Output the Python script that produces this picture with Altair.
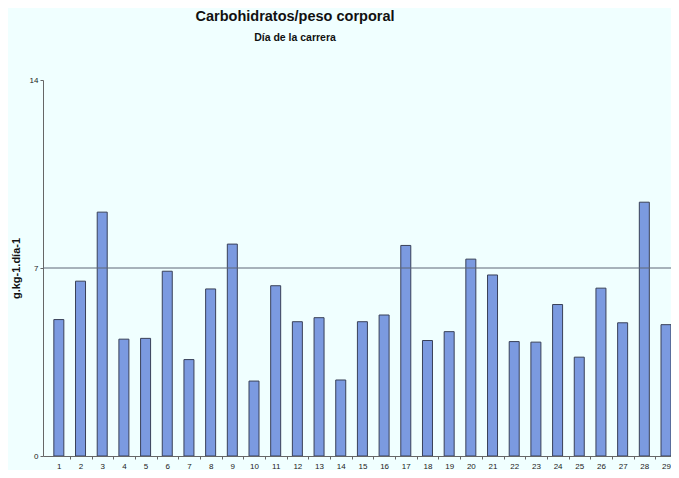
import altair as alt
import pandas as pd

days = list(range(1, 30))
values = [5.08, 6.51, 9.08, 4.35, 4.38, 6.88, 3.59, 6.22, 7.89, 2.79,
          6.34, 5.00, 5.15, 2.83, 5.00, 5.25, 7.84, 4.30, 4.63, 7.33,
          6.74, 4.26, 4.24, 5.64, 3.68, 6.25, 4.96, 9.45, 4.89]
reference_level = [7]
y_ticks = [0, 7, 14]

df = pd.DataFrame({"dia": days, "valor": values})
ref = pd.DataFrame({"nivel": reference_level})

FONT = "Liberation Sans"
W = 628
BAND = W / 28.5

x_enc = alt.X(
    "dia:Q",
    scale=alt.Scale(domain=[0.5, 29], nice=False, zero=False),
    axis=alt.Axis(
        values=days, format="d", title=None, grid=False,
        tickSize=3, tickOffset=BAND / 2, labelOffset=-BAND / 2,
        labelFontSize=8, labelPadding=3,
        labelColor="#222", labelFont=FONT,
        domainColor="#666", tickColor="#666", labelFlush=False,
    ),
)

y_enc = alt.Y(
    "valor:Q",
    scale=alt.Scale(domain=[0, 14], nice=False),
    axis=alt.Axis(
        values=y_ticks, title="g.kg-1.día-1", grid=False,
        tickSize=3, labelFontSize=8, labelPadding=2, labelColor="#222",
        labelFont=FONT, domainColor="#666", tickColor="#666",
        titleFont=FONT, titleFontSize=11, titleFontWeight="bold",
        titleColor="#111", titlePadding=8,
    ),
)

bars = alt.Chart(df).mark_bar(
    size=10, fill="#7b9ae0", stroke="#394058", strokeWidth=1, clip=True
).encode(x=x_enc, y=y_enc)

rule = alt.Chart(ref).mark_rule(color="#5f6677", strokeWidth=1).encode(
    y=alt.Y("nivel:Q")
)

chart = alt.layer(bars, rule).properties(
    width=W,
    height=376,
    background="#f0ffff",
    autosize=alt.AutoSizeParams(type="none"),
    padding={"left": 35, "top": 72, "right": 0, "bottom": 14},
    title=alt.TitleParams(
        text="Carbohidratos/peso corporal",
        subtitle="Día de la carrera",
        font=FONT, fontSize=14.5, fontWeight="bold", color="#111",
        subtitleFont=FONT, subtitleFontSize=10.5, subtitleFontWeight="bold",
        subtitleColor="#111", subtitlePadding=8,
        anchor="middle", dx=-62, offset=32,
    ),
).configure_view(stroke=None)

chart.save("out.html", embed_options={"renderer": "svg", "actions": False})
